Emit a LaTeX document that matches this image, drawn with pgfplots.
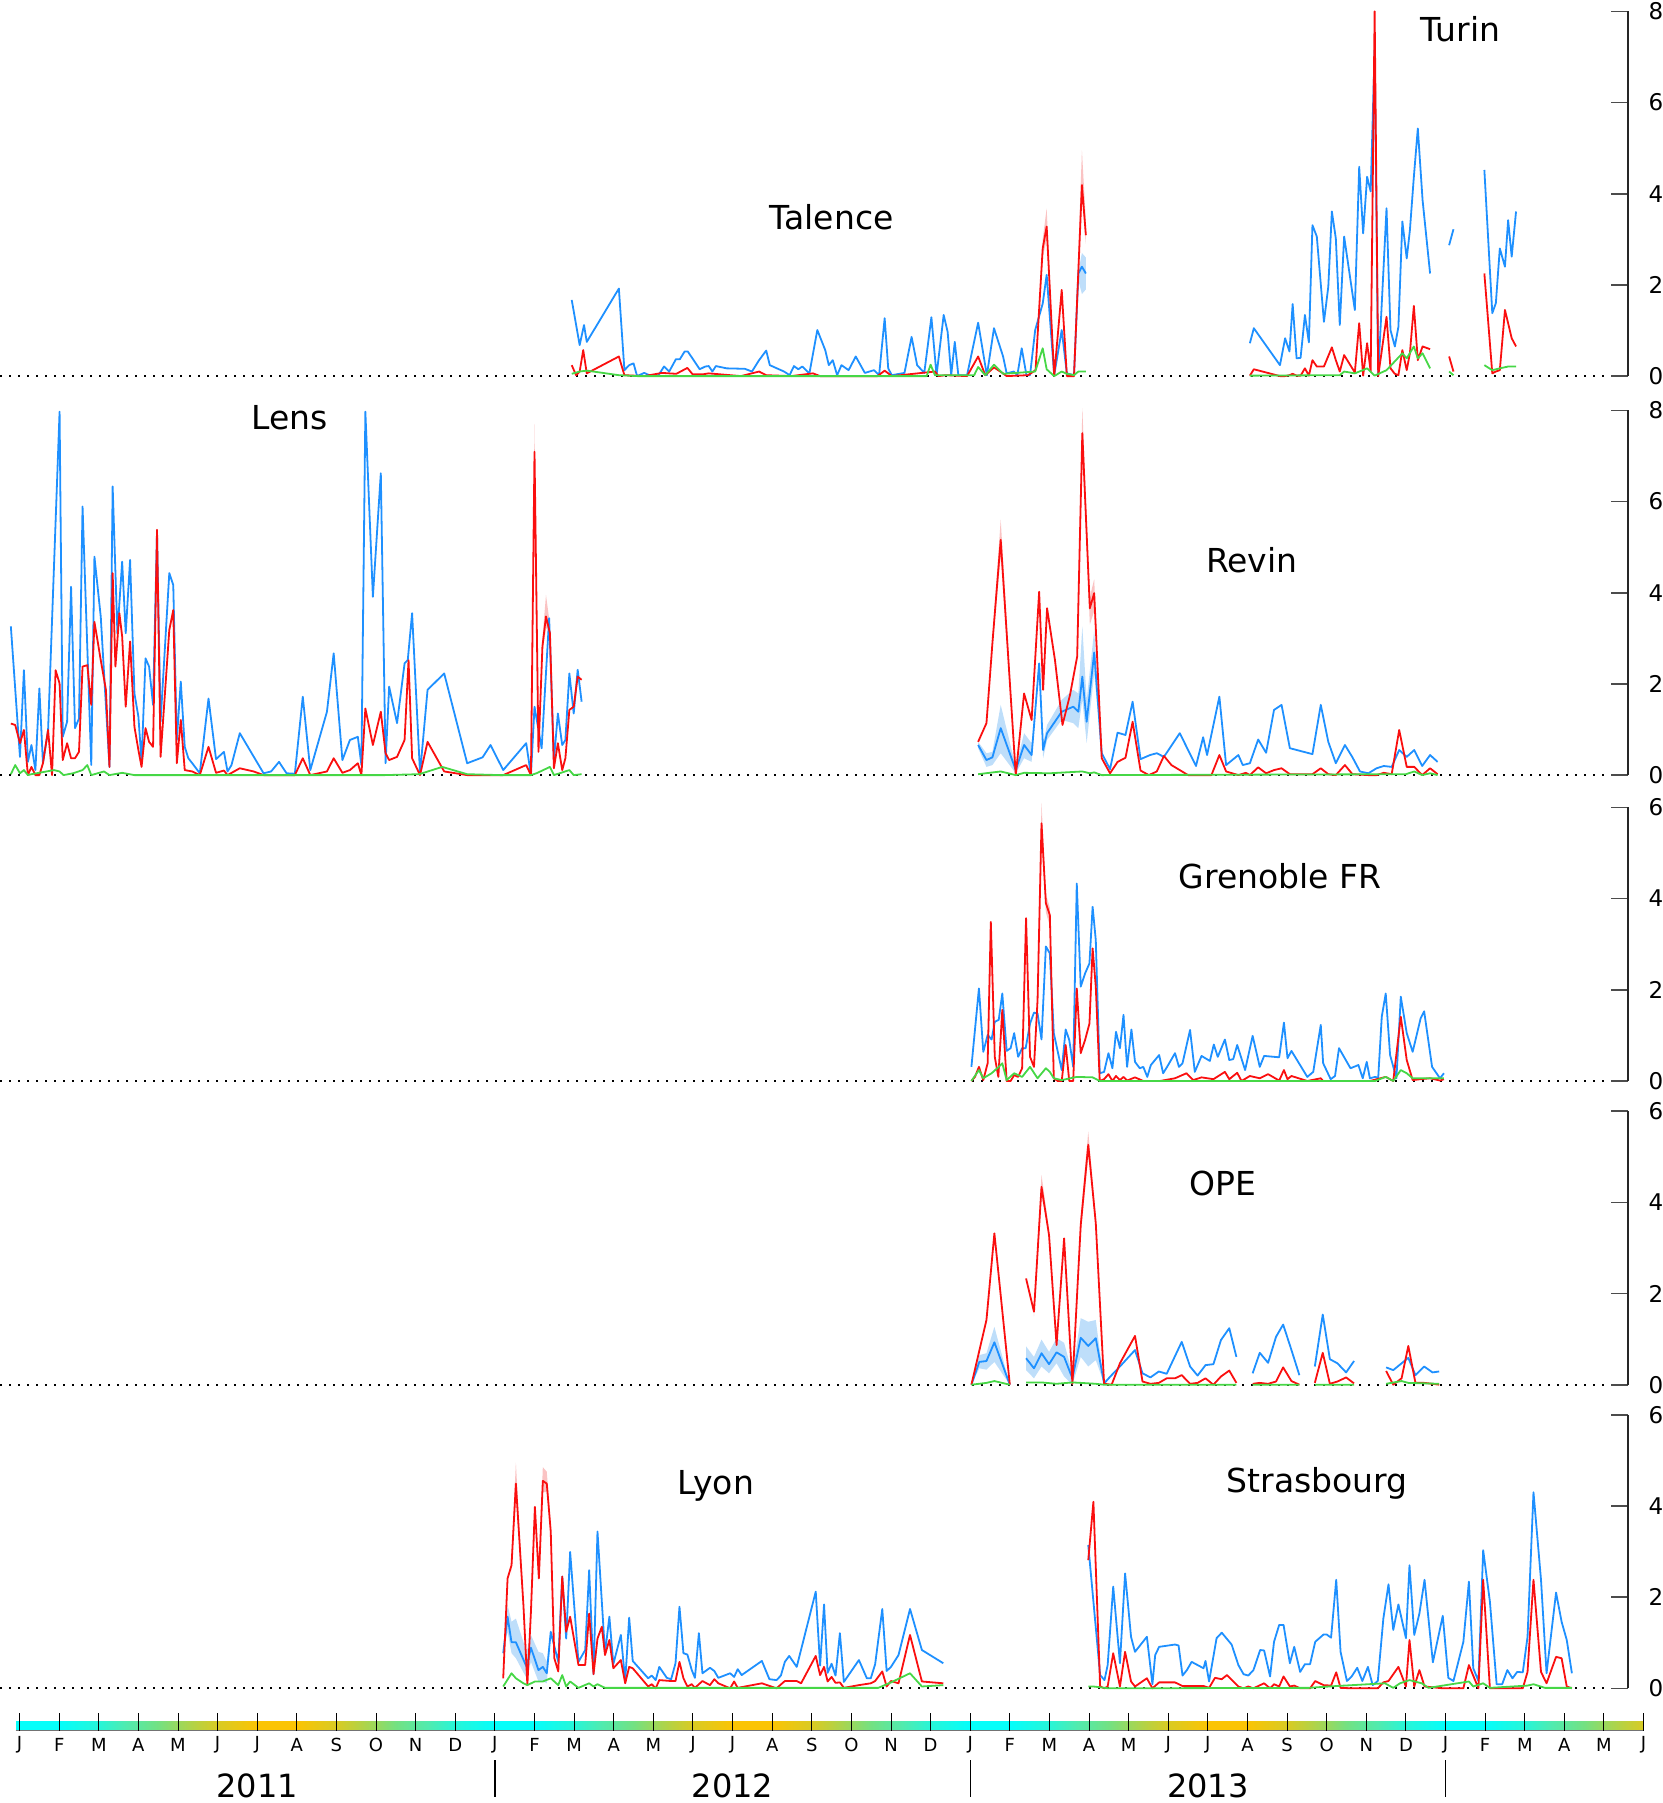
\documentclass[border=0pt]{standalone}
\usepackage{pgfplots}
\pgfplotsset{compat=1.18}
\usepackage{fontspec}
\setmainfont{DejaVu Sans}
\definecolor{cblue}{RGB}{30,144,255}
\definecolor{cred}{RGB}{250,15,15}
\definecolor{cgreen}{RGB}{70,215,70}
\definecolor{cband}{RGB}{190,222,250}
\definecolor{pband}{RGB}{250,195,195}
\tikzset{ttl/.style={font=\fontsize{16.5}{18}\selectfont, anchor=base}}
\pgfplotsset{
  bl/.style={color=cblue, line width=0.9pt, line join=round, mark=none, unbounded coords=jump},
  rd/.style={color=cred, line width=0.9pt, line join=round, mark=none, unbounded coords=jump},
  gr/.style={color=cgreen, line width=0.9pt, line join=round, mark=none, unbounded coords=jump},
  band/.style={fill=cband, draw=none},
  rband/.style={fill=pband, draw=none},
  zeroline/.style={black, line width=1pt, dash pattern=on 1pt off 3.5pt, mark=none},
  panel/.style={anchor=south west, x=19.805pt, y=22.8pt, xmin=-0.494, xmax=40.61, ymin=0,
    clip=false, axis y line*=right, axis x line=none, xtick=\empty,
    tick align=inside, major tick length=8.5pt, ytick distance=2,
    every tick/.style={black!70, line width=0.8pt},
    axis line style={black!85, line width=0.8pt},
    /pgf/number format/assume math mode=true,
    yticklabel style={font=\fontsize{11.5}{12}\selectfont, anchor=west, inner sep=0pt, xshift=10pt}}
}
\begin{document}
\begin{tikzpicture}
\useasboundingbox (0pt,0pt) rectangle (831.5pt,-901.5pt);

% ---------------- Panel 1: Talence, Turin
\begin{axis}[panel, at={(0pt,-188.05pt)}, ymax=8]
\addplot[zeroline] coordinates {(-0.494,0) (40.15,0)};
\addplot[rband] coordinates {(25.65,0.15) (25.83,3.0) (25.93,3.68) (26.12,0.0) (25.93,3.0) (25.83,2.6)} -- cycle;
\addplot[rband] coordinates {(26.62,0.02) (26.82,4.95) (26.92,3.4) (26.92,2.9) (26.82,3.95)} -- cycle;
\addplot[band] coordinates {(26.73,2.3) (26.82,2.7) (26.92,2.6) (26.92,1.9) (26.82,1.8) (26.73,2.1)} -- cycle;
\addplot[bl] coordinates {(13.94,1.67) (14.14,0.68) (14.25,1.12) (14.32,0.75) (15.13,1.92) (15.27,0.13) (15.39,0.24) (15.50,0.28) (15.59,0.0) (15.77,0.07) (15.95,0.0) (16.13,0.02) (16.27,0.21) (16.40,0.10) (16.57,0.37) (16.67,0.37) (16.79,0.54) (16.87,0.54) (17.04,0.32) (17.17,0.15) (17.31,0.21) (17.40,0.22) (17.49,0.10) (17.58,0.22) (17.85,0.17) (18.31,0.16) (18.49,0.10) (18.67,0.35) (18.85,0.56) (18.94,0.24) (19.30,0.10) (19.44,0.02) (19.55,0.22) (19.66,0.15) (19.76,0.21) (19.94,0.06) (20.14,1.01) (20.34,0.57) (20.43,0.24) (20.53,0.35) (20.64,0.02) (20.75,0.24) (20.93,0.13) (21.11,0.43) (21.34,0.07) (21.57,0.13) (21.70,0.02) (21.84,1.27) (21.93,0.17) (22.02,0.02) (22.34,0.07) (22.52,0.86) (22.66,0.24) (22.84,0.07) (23.02,1.29) (23.15,0.02) (23.33,1.34) (23.43,0.97) (23.52,0.02) (23.61,0.75) (23.70,0.02) (23.92,0.02) (24.20,1.17) (24.42,0.02) (24.60,1.05) (24.83,0.43) (24.92,0.06) (25.10,0.10) (25.19,0.02) (25.30,0.61) (25.42,0.02) (25.51,0.02) (25.64,1.01) (25.83,1.59) (25.93,2.22) (26.12,0.02) (26.31,1.01) (26.44,0.06) (26.62,0.02) (26.73,2.25) (26.82,2.40) (26.92,2.25)};
\addplot[rd] coordinates {(13.94,0.24) (14.05,0.02) (14.14,0.10) (14.23,0.57) (14.32,0.06) (15.13,0.43) (15.27,0.02) (15.77,0.0) (16.22,0.07) (16.58,0.05) (16.86,0.18) (16.99,0.04) (17.26,0.04) (17.40,0.06) (17.67,0.04) (18.21,0.0) (18.67,0.10) (18.85,0.02) (19.48,0.0) (20.03,0.06) (20.21,0.0) (21.66,0.0) (21.84,0.12) (22.02,0.0) (23.11,0.10) (23.20,0.0) (23.38,0.02) (23.92,0.0) (24.20,0.43) (24.38,0.02) (24.60,0.19) (24.83,0.06) (24.92,0.0) (25.46,0.02) (25.65,0.13) (25.83,2.80) (25.93,3.28) (26.12,0.0) (26.31,1.89) (26.44,0.0) (26.62,0.0) (26.82,4.19) (26.92,3.09)};
\addplot[gr] coordinates {(13.94,0.05) (14.14,0.1) (14.32,0.12) (15.13,0.02) (15.6,0.0) (22.9,0.0) (23.0,0.25) (23.11,0.02) (24.1,0.02) (24.20,0.2) (24.38,0.02) (24.60,0.25) (24.83,0.05) (25.64,0.1) (25.83,0.61) (25.93,0.15) (26.12,0.0) (26.31,0.1) (26.44,0.05) (26.62,0.02) (26.73,0.1) (26.92,0.1)};
\addplot[bl] coordinates {(31.06,0.72) (31.16,1.05) (31.82,0.24) (31.95,0.83) (32.06,0.54) (32.14,1.58) (32.24,0.39) (32.34,0.40) (32.45,1.34) (32.55,0.74) (32.64,3.31) (32.75,3.06) (32.93,1.19) (33.04,1.96) (33.13,3.61) (33.23,3.02) (33.33,1.12) (33.44,3.06) (33.71,1.45) (33.82,4.59) (33.92,3.13) (34.02,4.37) (34.11,4.05) (34.21,7.15) (34.30,0.02) (34.51,3.68) (34.61,1.01) (34.72,0.65) (34.81,1.08) (34.91,3.39) (35.02,2.58) (35.10,3.20) (35.20,4.37) (35.30,5.43) (35.42,3.86) (35.61,2.25) (35.7,nan) (36.09,2.87) (36.20,3.22) (36.5,nan) (36.98,4.52) (37.18,1.38) (37.27,1.60) (37.37,2.80) (37.50,2.40) (37.58,3.42) (37.67,2.62) (37.78,3.61)};
\addplot[rd] coordinates {(31.06,0.01) (31.16,0.15) (31.82,0.0) (31.95,0.0) (32.06,0.02) (32.14,0.05) (32.24,0.01) (32.34,0.01) (32.45,0.17) (32.55,0.01) (32.64,0.35) (32.75,0.21) (32.93,0.21) (33.13,0.63) (33.23,0.35) (33.33,0.10) (33.44,0.46) (33.71,0.08) (33.82,1.16) (33.92,0.01) (34.02,0.72) (34.11,0.10) (34.21,8.0) (34.30,0.0) (34.51,1.30) (34.61,0.17) (34.72,0.05) (34.81,0.02) (34.91,0.57) (35.02,0.13) (35.10,0.50) (35.20,1.54) (35.30,0.35) (35.42,0.65) (35.61,0.59) (35.7,nan) (36.09,0.43) (36.20,0.10) (36.5,nan) (36.98,2.25) (37.18,0.06) (37.27,0.10) (37.37,0.13) (37.50,1.45) (37.58,1.16) (37.67,0.83) (37.78,0.65)};
\addplot[gr] coordinates {(31.06,0.01) (33.33,0.02) (33.44,0.10) (33.71,0.06) (34.02,0.17) (34.21,0.01) (34.51,0.13) (34.91,0.50) (35.02,0.39) (35.20,0.65) (35.30,0.39) (35.42,0.50) (35.61,0.17) (35.7,nan) (36.09,0.10) (36.20,0.02) (36.5,nan) (36.98,0.24) (37.18,0.13) (37.37,0.17) (37.58,0.21) (37.78,0.21)};
\node[ttl] at (axis cs:20.50,3.22) {Talence};
\node[ttl] at (axis cs:36.38,7.33) {Turin};
\end{axis}

% ---------------- Panel 2: Lens, Revin
\begin{axis}[panel, at={(0pt,-387.55pt)}, ymax=8]
\addplot[zeroline] coordinates {(-0.494,0) (40.15,0)};
\addplot[band] coordinates {(24.20,0.73) (24.41,0.48) (24.56,0.51) (24.77,1.54) (25.15,0.18) (25.36,0.92) (25.55,0.70) (25.74,2.49) (25.84,0.70) (25.94,1.10) (26.31,1.65) (26.60,1.87) (26.73,1.79) (26.83,3.26) (26.94,1.65) (27.13,3.18) (27.32,0.50) (27.32,0.46) (27.13,2.23) (26.94,0.70) (26.83,1.65) (26.73,1.03) (26.60,1.14) (26.31,1.21) (25.94,0.77) (25.84,0.37) (25.74,2.38) (25.55,0.29) (25.36,0.37) (25.15,0.04) (24.77,0.48) (24.56,0.22) (24.41,0.18) (24.20,0.59)} -- cycle;
\addplot[rband] coordinates {(24.56,3.0) (24.77,5.6) (25.15,0.0) (24.77,4.8) (24.56,2.8)} -- cycle;
\addplot[rband] coordinates {(26.70,2.7) (26.83,8.05) (27.02,3.9) (27.13,4.3) (27.32,0.4) (27.32,0.35) (27.13,3.6) (27.02,3.3) (26.83,7.3) (26.70,2.5)} -- cycle;
\addplot[rband] coordinates {(12.91,0.0) (13.00,7.7) (13.10,0.6) (13.00,7.0)} -- cycle;
\addplot[rband] coordinates {(13.20,3.0) (13.29,3.95) (13.39,3.3) (13.29,3.2) (13.20,2.7)} -- cycle;
\addplot[bl] coordinates {(-0.22,3.26) (0.01,0.40) (0.11,2.30) (0.21,0.29) (0.30,0.66) (0.40,0.11) (0.50,1.90) (0.59,0.26) (0.72,0.99) (1.01,7.97) (1.09,0.84) (1.20,1.17) (1.30,4.13) (1.40,1.03) (1.50,1.24) (1.59,5.89) (1.81,0.22) (1.89,4.79) (2.05,3.47) (2.27,0.18) (2.35,6.33) (2.47,3.11) (2.59,4.68) (2.68,3.11) (2.79,4.72) (2.90,1.79) (3.00,1.28) (3.08,0.29) (3.18,2.56) (3.27,2.38) (3.37,1.54) (3.47,5.30) (3.56,1.17) (3.78,4.43) (3.88,4.17) (3.97,0.77) (4.07,2.05) (4.17,0.62) (4.26,0.37) (4.36,0.26) (4.55,0.04) (4.77,1.68) (4.96,0.35) (5.16,0.51) (5.25,0.08) (5.35,0.22) (5.56,0.92) (6.16,0.04) (6.35,0.08) (6.55,0.29) (6.74,0.04) (6.95,0.03) (7.15,1.72) (7.34,0.11) (7.76,1.39) (7.93,2.67) (8.15,0.33) (8.34,0.77) (8.54,0.84) (8.63,0.22) (8.73,7.97) (8.92,3.91) (9.12,6.62) (9.24,0.26) (9.33,1.94) (9.53,1.14) (9.72,2.45) (9.80,2.52) (9.91,3.55) (10.11,0.04) (10.30,1.87) (10.72,2.23) (11.30,0.26) (11.69,0.39) (11.89,0.66) (12.21,0.11) (12.79,0.70) (12.91,0.00) (13.00,1.50) (13.18,0.59) (13.37,3.44) (13.49,0.33) (13.59,1.35) (13.70,0.66) (13.78,0.77) (13.88,2.23) (13.99,1.35) (14.09,2.31) (14.19,1.61)};
\addplot[rd] coordinates {(-0.22,1.13) (-0.11,1.10) (0.01,0.70) (0.11,0.99) (0.21,0.0) (0.30,0.18) (0.40,0.0) (0.50,0.0) (0.59,0.26) (0.72,0.99) (0.82,0.0) (0.91,2.30) (1.01,2.01) (1.09,0.33) (1.20,0.70) (1.30,0.37) (1.40,0.37) (1.50,0.51) (1.59,2.38) (1.71,2.41) (1.81,1.54) (1.89,3.36) (2.05,2.52) (2.18,1.87) (2.27,0.18) (2.35,4.43) (2.42,2.38) (2.52,3.55) (2.59,3.04) (2.68,1.50) (2.79,2.93) (2.90,1.06) (3.00,0.55) (3.08,0.18) (3.18,1.03) (3.27,0.73) (3.37,0.62) (3.47,5.38) (3.56,0.40) (3.78,3.18) (3.88,3.62) (3.97,0.26) (4.07,1.21) (4.17,0.11) (4.36,0.08) (4.55,0.0) (4.77,0.62) (4.96,0.05) (5.16,0.10) (5.25,0.0) (5.56,0.15) (5.91,0.08) (6.16,0.0) (6.35,0.0) (6.55,0.0) (6.95,0.0) (7.15,0.37) (7.34,0.0) (7.76,0.08) (7.93,0.37) (8.15,0.05) (8.34,0.11) (8.54,0.26) (8.63,0.0) (8.73,1.46) (8.92,0.66) (9.12,1.39) (9.24,0.48) (9.33,0.33) (9.53,0.40) (9.72,0.77) (9.82,2.52) (9.91,0.37) (10.11,0.0) (10.30,0.73) (10.72,0.08) (11.30,0.0) (11.89,0.0) (12.21,0.0) (12.79,0.22) (12.91,0.0) (13.00,7.09) (13.10,0.51) (13.20,2.82) (13.29,3.48) (13.39,3.11) (13.49,0.15) (13.59,0.70) (13.70,0.11) (13.78,0.37) (13.88,1.43) (13.99,1.50) (14.09,2.16) (14.19,2.09)};
\addplot[gr] coordinates {(-0.22,0.02) (-0.11,0.22) (0.01,0.04) (0.11,0.11) (0.21,0.0) (0.30,0.02) (0.87,0.11) (1.01,0.08) (1.11,0.0) (1.35,0.04) (1.59,0.11) (1.71,0.22) (1.81,0.0) (2.13,0.08) (2.27,0.0) (2.59,0.05) (2.90,0.0) (3.39,0.0) (3.97,0.0) (8.63,0.0) (9.22,0.0) (10.09,0.02) (10.67,0.18) (11.30,0.02) (12.13,0.0) (12.91,0.0) (13.05,0.04) (13.39,0.18) (13.49,0.0) (13.88,0.11) (13.99,0.0) (14.19,0.02)};
\addplot[bl] coordinates {(24.20,0.66) (24.41,0.33) (24.56,0.39) (24.77,1.03) (25.15,0.11) (25.36,0.66) (25.55,0.44) (25.74,2.45) (25.84,0.55) (25.94,0.92) (26.31,1.39) (26.60,1.50) (26.73,1.39) (26.83,2.16) (26.94,1.17) (27.13,2.69) (27.32,0.48) (27.53,0.13) (27.72,0.93) (27.92,0.88) (28.10,1.61) (28.30,0.35) (28.54,0.44) (28.71,0.48) (28.89,0.40) (29.29,0.92) (29.70,0.20) (29.88,0.83) (29.98,0.44) (30.29,1.72) (30.46,0.22) (30.77,0.44) (30.88,0.22) (31.06,0.26) (31.27,0.78) (31.47,0.49) (31.67,1.43) (31.86,1.54) (32.07,0.59) (32.64,0.46) (32.85,1.54) (33.04,0.73) (33.23,0.26) (33.46,0.66) (33.65,0.39) (33.84,0.08) (34.05,0.04) (34.26,0.15) (34.44,0.20) (34.64,0.18) (34.83,0.55) (35.02,0.40) (35.21,0.55) (35.41,0.20) (35.61,0.44) (35.80,0.29)};
\addplot[rd] coordinates {(24.20,0.73) (24.41,1.14) (24.56,2.89) (24.77,5.16) (25.15,0.0) (25.36,1.79) (25.55,1.21) (25.74,4.02) (25.84,1.87) (25.94,3.66) (26.14,2.52) (26.33,1.10) (26.52,1.76) (26.70,2.60) (26.83,7.50) (27.02,3.66) (27.13,3.99) (27.32,0.37) (27.53,0.04) (27.72,0.29) (27.92,0.38) (28.10,1.17) (28.30,0.10) (28.51,0.0) (28.71,0.08) (28.89,0.42) (29.08,0.22) (29.29,0.11) (29.50,0.0) (29.88,0.0) (30.09,0.0) (30.29,0.44) (30.46,0.08) (30.77,0.0) (30.96,0.05) (31.06,0.0) (31.27,0.17) (31.47,0.04) (31.67,0.11) (31.86,0.15) (32.07,0.02) (32.64,0.02) (32.85,0.15) (33.04,0.02) (33.23,0.0) (33.46,0.22) (33.65,0.02) (34.05,0.0) (34.26,0.0) (34.44,0.05) (34.64,0.02) (34.83,0.99) (35.02,0.18) (35.21,0.18) (35.41,0.0) (35.61,0.15) (35.80,0.02)};
\addplot[gr] coordinates {(24.20,0.02) (24.77,0.08) (25.15,0.0) (25.36,0.05) (26.0,0.04) (26.83,0.08) (27.02,0.04) (27.13,0.06) (27.32,0.0) (35.0,0.02) (35.21,0.08) (35.41,0.0) (35.61,0.04) (35.80,0.0)};
\node[ttl] at (axis cs:6.81,7.57) {Lens};
\node[ttl] at (axis cs:31.11,4.45) {Revin};
\end{axis}

% ---------------- Panel 3: Grenoble FR
\begin{axis}[panel, at={(0pt,-540.5pt)}, ymax=6]
\addplot[zeroline] coordinates {(-0.494,0) (40.15,0)};
\addplot[rband] coordinates {(25.70,1.9) (25.80,6.1) (25.91,4.1) (26.01,3.8) (26.11,0.1) (26.01,3.4) (25.91,3.7) (25.80,5.4) (25.70,1.7)} -- cycle;
\addplot[bl] coordinates {(24.03,0.31) (24.22,2.03) (24.33,0.64) (24.44,1.01) (24.54,0.91) (24.62,1.30) (24.72,1.34) (24.81,1.92) (24.92,0.66) (25.02,0.72) (25.11,1.05) (25.21,0.53) (25.31,0.72) (25.40,0.72) (25.51,1.26) (25.61,1.50) (25.70,1.48) (25.80,0.91) (25.91,2.95) (26.01,2.80) (26.11,1.05) (26.31,0.24) (26.41,1.13) (26.50,0.90) (26.60,0.31) (26.69,4.33) (26.79,2.07) (26.90,2.36) (27.01,2.58) (27.09,3.82) (27.17,3.09) (27.27,0.17) (27.38,0.20) (27.49,0.61) (27.59,0.28) (27.68,1.08) (27.78,0.72) (27.87,1.45) (27.96,0.31) (28.07,1.13) (28.16,0.42) (28.28,0.28) (28.37,0.31) (28.47,0.09) (28.56,0.35) (28.77,0.57) (28.87,0.17) (28.97,0.31) (29.17,0.61) (29.27,0.31) (29.36,0.39) (29.55,1.12) (29.67,0.20) (29.84,0.55) (30.05,0.44) (30.15,0.80) (30.25,0.53) (30.43,0.91) (30.54,0.46) (30.64,0.48) (30.74,0.79) (30.94,0.24) (31.13,0.99) (31.31,0.31) (31.42,0.55) (31.80,0.52) (31.92,1.28) (32.01,0.50) (32.11,0.66) (32.51,0.09) (32.66,0.20) (32.85,1.23) (32.91,0.39) (33.10,0.04) (33.21,0.11) (33.31,0.72) (33.60,0.28) (33.80,0.35) (33.91,0.06) (34.01,0.42) (34.09,0.06) (34.22,0.09) (34.30,0.07) (34.39,1.41) (34.49,1.92) (34.60,0.57) (34.76,0.06) (34.87,1.85) (35.02,1.05) (35.17,0.64) (35.37,1.37) (35.46,1.53) (35.66,0.31) (35.86,0.06) (35.96,0.17)};
\addplot[rd] coordinates {(24.03,0.0) (24.12,0.09) (24.22,0.31) (24.33,0.02) (24.44,0.39) (24.52,3.49) (24.62,0.53) (24.71,0.09) (24.81,1.56) (24.92,0.0) (25.02,0.0) (25.11,0.13) (25.21,0.09) (25.31,0.28) (25.41,3.57) (25.51,0.53) (25.61,0.31) (25.70,1.78) (25.80,5.65) (25.91,3.90) (26.01,3.64) (26.11,0.06) (26.21,0.0) (26.31,0.0) (26.41,0.79) (26.50,0.0) (26.60,0.0) (26.69,2.03) (26.79,0.61) (26.90,0.90) (27.01,1.26) (27.09,2.91) (27.17,2.07) (27.27,0.0) (27.38,0.04) (27.49,0.15) (27.59,0.0) (27.68,0.11) (27.78,0.02) (27.87,0.09) (27.96,0.01) (28.16,0.08) (28.37,0.0) (28.79,0.0) (29.17,0.06) (29.46,0.17) (29.63,0.02) (29.84,0.08) (30.14,0.04) (30.43,0.20) (30.54,0.04) (30.74,0.18) (30.85,0.0) (31.06,0.11) (31.31,0.06) (31.52,0.15) (31.80,0.01) (31.92,0.24) (32.01,0.04) (32.11,0.11) (32.51,0.0) (32.85,0.06) (32.91,0.0) (34.09,0.0) (34.49,0.09) (34.68,0.0) (34.87,1.41) (35.02,0.46) (35.17,0.02) (35.37,0.04) (35.61,0.06) (35.86,0.01) (35.96,0.04)};
\addplot[gr] coordinates {(24.03,0.0) (24.22,0.24) (24.33,0.06) (24.54,0.17) (24.72,0.31) (24.81,0.39) (24.92,0.02) (25.11,0.17) (25.31,0.09) (25.51,0.31) (25.70,0.06) (25.91,0.28) (26.01,0.20) (26.11,0.06) (26.31,0.02) (26.69,0.09) (27.09,0.08) (27.27,0.0) (34.22,0.0) (34.49,0.09) (34.68,0.0) (34.87,0.24) (35.02,0.17) (35.17,0.06) (35.96,0.06)};
\node[ttl] at (axis cs:31.82,4.23) {Grenoble FR};
\end{axis}

% ---------------- Panel 4: OPE
\begin{axis}[panel, at={(0pt,-692.35pt)}, ymax=6]
\addplot[zeroline] coordinates {(-0.494,0) (40.15,0)};
\addplot[band] coordinates {(24.03,0.0) (24.23,0.65) (24.41,0.69) (24.61,1.27) (25.00,0.0) (24.61,0.50) (24.41,0.33) (24.23,0.36)} -- cycle;
\addplot[band] coordinates {(25.41,0.84) (25.61,0.61) (25.80,0.99) (25.99,0.72) (26.18,1.02) (26.37,0.92) (26.58,0.25) (26.79,1.46) (26.98,1.38) (27.17,1.42) (27.38,0.03) (27.17,0.54) (26.98,0.40) (26.79,0.61) (26.58,0.0) (26.37,0.18) (26.18,0.47) (25.99,0.25) (25.80,0.40) (25.61,0.14) (25.41,0.32)} -- cycle;
\addplot[rband] coordinates {(26.79,3.7) (26.98,5.55) (27.17,3.7) (26.98,5.0) (26.79,3.3)} -- cycle;
\addplot[rband] coordinates {(25.61,1.7) (25.80,4.6) (25.99,3.4) (25.80,4.1) (25.61,1.5)} -- cycle;
\addplot[bl] coordinates {(24.03,0.0) (24.23,0.50) (24.41,0.52) (24.61,0.93) (25.00,0.0) (25.2,nan) (25.41,0.58) (25.61,0.36) (25.80,0.69) (25.99,0.45) (26.18,0.71) (26.37,0.61) (26.58,0.14) (26.79,1.03) (26.98,0.85) (27.17,1.02) (27.38,0.03) (27.57,0.21) (27.78,0.40) (28.16,0.76) (28.35,0.25) (28.55,0.16) (28.76,0.29) (28.96,0.24) (29.34,0.94) (29.55,0.40) (29.74,0.20) (29.94,0.43) (30.14,0.45) (30.33,0.98) (30.54,1.24) (30.72,0.61) (30.9,nan) (31.13,0.25) (31.31,0.70) (31.52,0.48) (31.72,1.05) (31.90,1.32) (32.11,0.76) (32.31,0.21) (32.5,nan) (32.70,0.40) (32.90,1.54) (33.08,0.56) (33.27,0.47) (33.49,0.27) (33.69,0.52) (34.0,nan) (34.50,0.38) (34.68,0.32) (35.06,0.59) (35.24,0.21) (35.46,0.40) (35.67,0.27) (35.84,0.29)};
\addplot[rd] coordinates {(24.03,0.0) (24.41,1.42) (24.61,3.32) (25.00,0.0) (25.2,nan) (25.41,2.33) (25.61,1.60) (25.80,4.34) (25.99,3.28) (26.18,0.87) (26.37,3.21) (26.58,0.02) (26.79,3.50) (26.98,5.26) (27.17,3.54) (27.38,0.02) (27.57,0.0) (27.78,0.47) (28.16,1.07) (28.35,0.07) (28.55,0.02) (28.76,0.04) (28.96,0.14) (29.17,0.14) (29.34,0.21) (29.55,0.02) (29.74,0.04) (29.94,0.14) (30.14,0.0) (30.33,0.18) (30.54,0.31) (30.72,0.04) (30.9,nan) (31.13,0.02) (31.31,0.04) (31.52,0.02) (31.72,0.07) (31.90,0.38) (32.11,0.08) (32.31,0.0) (32.5,nan) (32.70,0.04) (32.90,0.70) (33.08,0.02) (33.27,0.07) (33.49,0.16) (33.69,0.03) (34.0,nan) (34.50,0.30) (34.68,0.0) (34.89,0.14) (35.06,0.85) (35.24,0.04) (35.46,0.04) (35.67,0.02) (35.84,0.0)};
\addplot[gr] coordinates {(24.03,0.0) (24.41,0.04) (24.61,0.08) (25.00,0.0) (25.2,nan) (25.41,0.05) (25.80,0.05) (26.18,0.02) (26.58,0.05) (26.79,0.04) (27.17,0.02) (27.38,0.0) (30.72,0.0) (30.9,nan) (31.13,0.0) (32.31,0.0) (32.5,nan) (32.70,0.0) (33.69,0.0) (34.0,nan) (34.50,0.02) (34.89,0.08) (35.06,0.04) (35.84,0.02)};
\node[ttl] at (axis cs:30.38,4.16) {OPE};
\end{axis}

% ---------------- Panel 5: Lyon, Strasbourg
\begin{axis}[panel, at={(0pt,-844.15pt)}, ymax=6]
\addplot[zeroline] coordinates {(-0.494,0) (40.15,0)};
\addplot[band] coordinates {(12.21,0.8) (12.32,1.83) (12.42,1.46) (12.53,1.53) (12.80,0.80) (12.91,1.17) (13.10,0.80) (13.21,0.77) (13.31,0.58) (13.41,1.3) (13.41,1.2) (13.31,0.11) (13.21,0.15) (13.10,0.15) (12.91,0.58) (12.80,0.22) (12.53,0.66) (12.42,0.77) (12.32,1.24) (12.21,0.75)} -- cycle;
\addplot[rband] coordinates {(12.42,2.9) (12.53,4.95) (12.72,1.9) (12.53,4.2) (12.42,2.5)} -- cycle;
\addplot[rband] coordinates {(13.11,2.5) (13.21,4.85) (13.31,4.75) (13.41,3.6) (13.31,4.3) (13.21,4.3) (13.11,2.35)} -- cycle;
\addplot[bl] coordinates {(12.21,0.77) (12.32,1.57) (12.42,1.01) (12.53,1.01) (12.80,0.47) (12.91,0.89) (13.10,0.40) (13.21,0.47) (13.31,0.33) (13.41,1.24) (13.60,0.58) (13.70,2.45) (13.80,1.09) (13.90,2.99) (14.11,0.58) (14.28,0.84) (14.38,2.59) (14.49,0.31) (14.59,3.44) (14.78,0.77) (14.89,1.57) (14.99,0.53) (15.18,1.17) (15.29,0.16) (15.39,1.55) (15.48,0.60) (15.87,0.22) (15.96,0.28) (16.06,0.18) (16.15,0.47) (16.34,0.23) (16.45,0.20) (16.56,0.55) (16.66,1.79) (16.76,0.77) (16.86,0.74) (16.97,0.40) (17.05,0.23) (17.15,1.21) (17.24,0.33) (17.43,0.45) (17.54,0.38) (17.64,0.23) (17.94,0.33) (18.04,0.25) (18.13,0.42) (18.23,0.29) (18.74,0.60) (18.93,0.20) (19.11,0.18) (19.22,0.28) (19.32,0.58) (19.43,0.71) (19.62,0.47) (20.10,2.12) (20.21,0.50) (20.31,1.84) (20.40,0.34) (20.50,0.54) (20.60,0.28) (20.71,1.21) (20.81,0.14) (21.19,0.62) (21.39,0.22) (21.49,0.22) (21.60,0.53) (21.78,1.74) (21.89,0.38) (22.00,0.47) (22.19,0.73) (22.48,1.74) (22.78,0.84) (23.32,0.55)};
\addplot[rd] coordinates {(12.21,0.22) (12.32,2.41) (12.42,2.70) (12.53,4.49) (12.72,1.83) (12.82,0.07) (12.91,1.68) (13.01,3.98) (13.11,2.41) (13.21,4.55) (13.31,4.49) (13.41,3.44) (13.50,0.66) (13.60,0.37) (13.70,2.45) (13.80,1.24) (13.90,1.57) (14.11,0.51) (14.28,0.51) (14.38,1.64) (14.49,0.31) (14.59,1.09) (14.70,1.35) (14.78,0.73) (14.89,1.06) (14.99,0.44) (15.18,0.62) (15.29,0.11) (15.39,0.47) (15.48,0.44) (15.87,0.04) (15.96,0.09) (16.06,0.0) (16.15,0.18) (16.45,0.16) (16.56,0.16) (16.66,0.58) (16.76,0.22) (16.86,0.04) (16.97,0.09) (17.05,0.01) (17.24,0.16) (17.43,0.07) (17.54,0.20) (17.64,0.11) (17.94,0.0) (18.04,0.15) (18.13,0.01) (18.74,0.11) (19.11,0.0) (19.32,0.16) (19.62,0.16) (19.73,0.11) (20.10,0.71) (20.21,0.29) (20.31,0.47) (20.40,0.15) (20.50,0.25) (20.60,0.12) (20.71,0.13) (20.81,0.01) (21.19,0.07) (21.49,0.11) (21.60,0.16) (21.78,0.37) (21.89,0.04) (22.00,0.16) (22.19,0.11) (22.48,1.17) (22.78,0.15) (23.32,0.11)};
\addplot[gr] coordinates {(12.21,0.04) (12.42,0.33) (12.53,0.22) (12.72,0.11) (12.82,0.07) (13.01,0.15) (13.21,0.15) (13.41,0.22) (13.60,0.07) (13.70,0.29) (13.80,0.04) (13.90,0.15) (14.11,0.01) (14.38,0.11) (14.49,0.04) (14.59,0.09) (14.78,0.01) (21.68,0.01) (22.00,0.13) (22.48,0.33) (22.78,0.04) (23.32,0.07)};
\addplot[bl] coordinates {(26.98,3.14) (27.28,0.29) (27.39,0.18) (27.47,0.51) (27.61,2.23) (27.78,0.55) (27.91,2.52) (28.06,1.13) (28.16,0.80) (28.46,1.13) (28.60,0.09) (28.67,0.73) (28.77,0.91) (29.17,0.96) (29.26,0.94) (29.36,0.28) (29.47,0.40) (29.59,0.58) (29.89,0.44) (29.94,0.60) (30.03,0.15) (30.22,1.10) (30.35,1.22) (30.60,0.96) (30.77,0.51) (30.90,0.31) (31.02,0.28) (31.15,0.40) (31.32,0.84) (31.42,0.83) (31.57,0.26) (31.67,1.02) (31.80,1.39) (31.91,1.39) (32.07,0.55) (32.18,0.91) (32.33,0.36) (32.45,0.53) (32.58,0.53) (32.71,1.02) (32.92,1.18) (33.00,1.18) (33.11,1.11) (33.24,2.38) (33.35,0.80) (33.51,0.16) (33.63,0.26) (33.77,0.45) (33.90,0.16) (34.04,0.47) (34.16,0.07) (34.29,0.16) (34.43,1.53) (34.56,2.28) (34.68,1.28) (34.81,1.84) (35.00,1.10) (35.09,2.70) (35.21,1.17) (35.34,1.64) (35.47,2.38) (35.68,0.57) (35.93,1.59) (36.07,0.23) (36.20,0.16) (36.45,1.02) (36.59,2.34) (36.70,0.44) (36.83,0.16) (36.95,3.03) (37.12,1.90) (37.29,0.09) (37.43,0.09) (37.56,0.40) (37.69,0.22) (37.81,0.36) (37.95,0.35) (38.07,1.13) (38.22,4.30) (38.41,2.38) (38.55,0.33) (38.79,2.10) (38.93,1.46) (39.06,1.06) (39.19,0.33)};
\addplot[rd] coordinates {(26.98,2.81) (27.11,4.09) (27.28,0.04) (27.39,0.0) (27.47,0.04) (27.61,0.77) (27.78,0.04) (27.91,0.80) (28.06,0.15) (28.16,0.04) (28.46,0.22) (28.60,0.0) (28.77,0.13) (29.17,0.13) (29.36,0.05) (29.89,0.05) (30.03,0.01) (30.18,0.23) (30.35,0.20) (30.48,0.29) (30.77,0.04) (30.90,0.0) (31.02,0.04) (31.15,0.0) (31.32,0.07) (31.42,0.11) (31.57,0.0) (31.67,0.09) (31.80,0.04) (31.91,0.26) (32.07,0.04) (32.18,0.06) (32.33,0.0) (32.58,0.0) (32.71,0.16) (32.92,0.07) (33.11,0.06) (33.24,0.35) (33.35,0.01) (33.63,0.0) (34.04,0.0) (34.29,0.0) (34.43,0.13) (34.56,0.16) (34.81,0.47) (35.00,0.04) (35.09,1.06) (35.21,0.04) (35.34,0.40) (35.47,0.04) (35.93,0.0) (36.45,0.0) (36.59,0.51) (36.83,0.0) (36.95,2.38) (37.12,0.0) (37.95,0.0) (38.07,0.36) (38.22,2.38) (38.41,0.36) (38.55,0.11) (38.79,0.69) (38.93,0.66) (39.06,0.04) (39.19,0.0)};
\addplot[gr] coordinates {(26.98,0.04) (27.11,0.04) (27.49,0.0) (32.54,0.01) (33.24,0.05) (34.47,0.11) (34.68,0.01) (34.85,0.11) (35.09,0.18) (35.40,0.11) (35.57,0.01) (36.59,0.15) (36.70,0.04) (36.95,0.11) (37.12,0.01) (38.07,0.06) (38.22,0.09) (38.51,0.01) (39.19,0.01)};
\node[ttl] at (axis cs:17.58,4.24) {Lyon};
\node[ttl] at (axis cs:32.76,4.30) {Strasbourg};
\end{axis}

% ---------------- Season colour bar with months and years
\begin{axis}[anchor=south west, at={(0pt,-865.25pt)}, x=19.805pt, y=5pt,
  xmin=-0.494, xmax=41.05, ymin=0, ymax=1.75, clip=false,
  hide y axis, axis x line*=bottom, x axis line style={draw=none},
  xtick={0,...,41}, major tick length=0pt,
  xticklabels={J,F,M,A,M,J,J,A,S,O,N,D,J,F,M,A,M,J,J,A,S,O,N,D,J,F,M,A,M,J,J,A,S,O,N,D,J,F,M,A,M,J},
  xticklabel style={anchor=center, yshift=-7.25pt, font=\fontsize{9}{10}\selectfont},
  xmajorgrids, grid style={black, line width=0.5pt}, axis on top,
  colormap={season}{rgb255(0cm)=(0,255,255); rgb255(3cm)=(80,235,175); rgb255(5cm)=(115,225,130); rgb255(7.5cm)=(190,208,60); rgb255(10cm)=(255,195,0)},
  point meta min=0, point meta max=1]
\addplot[surf, shader=interp, point meta=explicit, mesh/cols=43] coordinates {
(-0.1,0) [0.03] (0,0) [0.017] (1,0) [0.017] (2,0) [0.146] (3,0) [0.371] (4,0) [0.629] (5,0) [0.854] (6,0) [0.983] (7,0) [0.983] (8,0) [0.854] (9,0) [0.629] (10,0) [0.371] (11,0) [0.146]
(12,0) [0.017] (13,0) [0.017] (14,0) [0.146] (15,0) [0.371] (16,0) [0.629] (17,0) [0.854] (18,0) [0.983] (19,0) [0.983] (20,0) [0.854] (21,0) [0.629] (22,0) [0.371] (23,0) [0.146]
(24,0) [0.017] (25,0) [0.017] (26,0) [0.146] (27,0) [0.371] (28,0) [0.629] (29,0) [0.854] (30,0) [0.983] (31,0) [0.983] (32,0) [0.854] (33,0) [0.629] (34,0) [0.371] (35,0) [0.146]
(36,0) [0.017] (37,0) [0.017] (38,0) [0.146] (39,0) [0.371] (40,0) [0.629] (41,0) [0.854]

(-0.1,1) [0.03] (0,1) [0.017] (1,1) [0.017] (2,1) [0.146] (3,1) [0.371] (4,1) [0.629] (5,1) [0.854] (6,1) [0.983] (7,1) [0.983] (8,1) [0.854] (9,1) [0.629] (10,1) [0.371] (11,1) [0.146]
(12,1) [0.017] (13,1) [0.017] (14,1) [0.146] (15,1) [0.371] (16,1) [0.629] (17,1) [0.854] (18,1) [0.983] (19,1) [0.983] (20,1) [0.854] (21,1) [0.629] (22,1) [0.371] (23,1) [0.146]
(24,1) [0.017] (25,1) [0.017] (26,1) [0.146] (27,1) [0.371] (28,1) [0.629] (29,1) [0.854] (30,1) [0.983] (31,1) [0.983] (32,1) [0.854] (33,1) [0.629] (34,1) [0.371] (35,1) [0.146]
(36,1) [0.017] (37,1) [0.017] (38,1) [0.146] (39,1) [0.371] (40,1) [0.629] (41,1) [0.854]
};
\draw[black!55, line width=0.5pt] (axis cs:-0.1,0) -- (axis cs:41,0);
\draw[black, line width=0.7pt] (axis cs:12,-2.95) -- (axis cs:12,-6.61);
\draw[black, line width=0.7pt] (axis cs:24,-2.95) -- (axis cs:24,-6.61);
\draw[black, line width=0.7pt] (axis cs:36,-2.95) -- (axis cs:36,-6.61);
\node[anchor=base, font=\fontsize{16}{18}\selectfont] at (axis cs:6,-6.65) {2011};
\node[anchor=base, font=\fontsize{16}{18}\selectfont] at (axis cs:18,-6.65) {2012};
\node[anchor=base, font=\fontsize{16}{18}\selectfont] at (axis cs:30,-6.65) {2013};
\end{axis}
\end{tikzpicture}
\end{document}
